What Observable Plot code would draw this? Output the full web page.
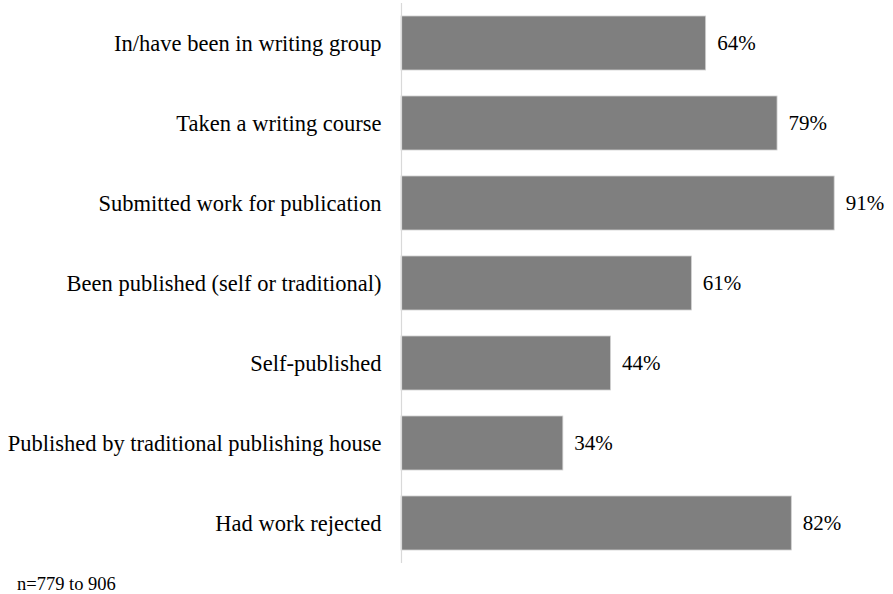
<!DOCTYPE html>
<html>
<head>
<meta charset="utf-8">
<script src="https://cdn.jsdelivr.net/npm/d3@7"></script>
<script src="https://cdn.jsdelivr.net/npm/@observablehq/plot@0.6"></script>
<style>
  html, body { margin: 0; padding: 0; background: #fff; }
  #chart svg { display: block; }
  #chart svg, #chart svg text { font-family: "Liberation Serif", "Times New Roman", Times, serif !important; }
  #caption { font-family: "Liberation Serif", "Times New Roman", Times, serif; font-size: 18.5px; line-height: 20px; color: #000; padding-left: 17px; margin-top: 2px; }
</style>
</head>
<body>
<div id="chart"></div>
<div id="caption">n=779 to 906</div>
<script>
const categories = [
  "In/have been in writing group",
  "Taken a writing course",
  "Submitted work for publication",
  "Been published (self or traditional)",
  "Self-published",
  "Published by traditional publishing house",
  "Had work rejected"
];
const values = [64, 79, 91, 61, 44, 34, 82];
const data = categories.map((c, i) => ({category: c, value: values[i]}));

const chart = Plot.plot({
  width: 893,
  height: 572,
  marginLeft: 401,
  marginRight: 16,
  marginTop: 3,
  marginBottom: 9,
  style: {fontSize: "22px", color: "#000", background: "#fff"},
  x: {domain: [0, 100], axis: null},
  y: {domain: categories, paddingInner: 0.33, paddingOuter: 0.165, label: null},
  marks: [
    Plot.barX(data, {y: "category", x: "value", fill: "#7f7f7f", stroke: "#d0d0d0", strokeWidth: 0.8}),
    Plot.ruleX([0], {stroke: "#d9d9d9", strokeWidth: 1.2}),
    Plot.text(data, {y: "category", x: "value", text: d => d.value + "%", textAnchor: "start", dx: 11, fontSize: 21, fill: "#000"}),
    Plot.axisY({tickSize: 0, tickPadding: 20, fontSize: 22.5, label: null})
  ]
});
document.getElementById("chart").appendChild(chart);
</script>
</body>
</html>
